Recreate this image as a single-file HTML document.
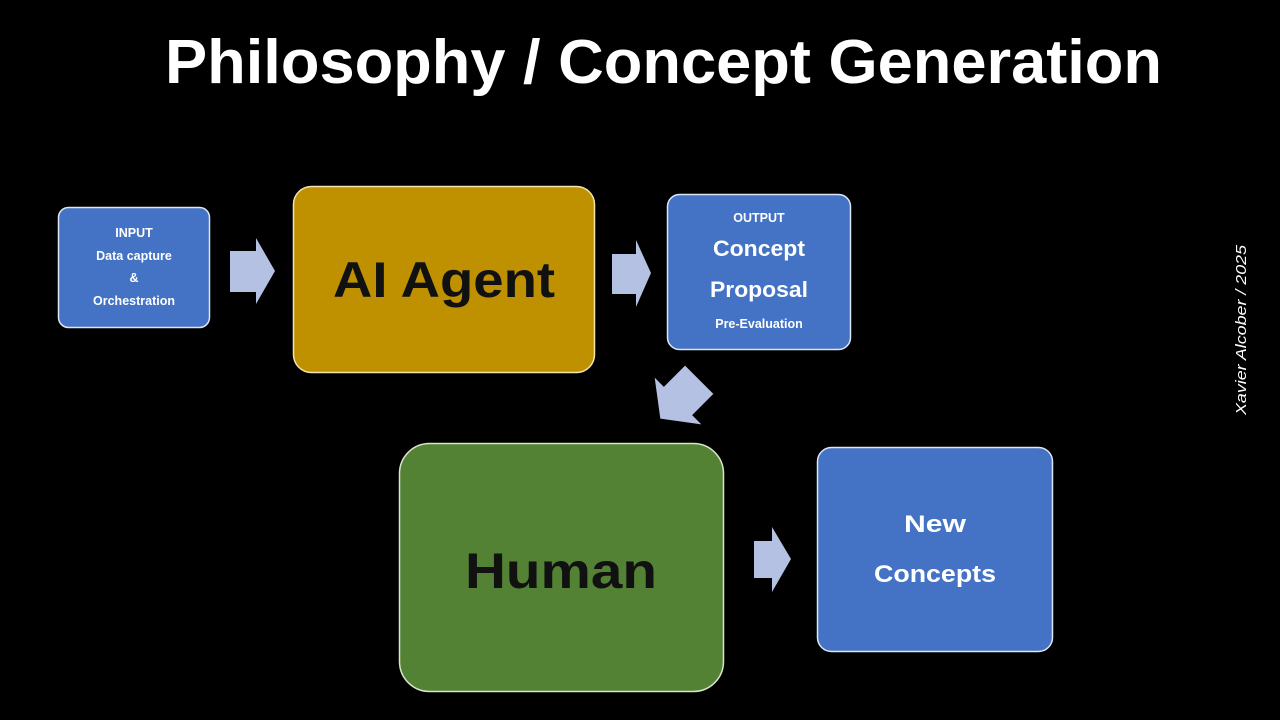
<!DOCTYPE html>
<html><head><meta charset="utf-8"><style>html,body{margin:0;padding:0;background:#000;}svg{display:block}</style></head><body>
<svg width="1280" height="720" viewBox="0 0 1280 720" xmlns="http://www.w3.org/2000/svg" font-family="Liberation Sans, sans-serif" font-weight="bold">
<rect width="1280" height="720" fill="#000"/>
<text x="165" y="83" font-size="62" fill="#fff" textLength="997" lengthAdjust="spacingAndGlyphs">Philosophy / Concept Generation</text>

<rect x="58.5" y="207.5" width="151" height="120" rx="10" fill="#4472c4" stroke="#dde6f5" stroke-width="1.5"/>
<g fill="#fff" font-size="12.5" text-anchor="middle">
<text x="134" y="237">INPUT</text>
<text x="134" y="260">Data capture</text>
<text x="134" y="282">&amp;</text>
<text x="134" y="305">Orchestration</text>
</g>

<polygon points="230,251 256,251 256,238 275,271 256,304 256,292 230,292" fill="#b4c1e2"/>

<rect x="293.5" y="186.5" width="301" height="186" rx="18" fill="#bf9000" stroke="#f4e4b0" stroke-width="1.5"/>
<text x="444" y="297" font-size="50" fill="#111" text-anchor="middle" textLength="222" lengthAdjust="spacingAndGlyphs">AI  Agent</text>

<polygon points="612,254 636,254 636,240 651,273 636,307 636,294 612,294" fill="#b4c1e2"/>

<rect x="667.5" y="194.5" width="183" height="155" rx="12" fill="#4472c4" stroke="#dde6f5" stroke-width="1.5"/>
<g fill="#fff" text-anchor="middle">
<text x="759" y="222" font-size="12.5">OUTPUT</text>
<text x="759" y="256" font-size="22" textLength="92" lengthAdjust="spacingAndGlyphs">Concept</text>
<text x="759" y="297" font-size="22" textLength="98" lengthAdjust="spacingAndGlyphs">Proposal</text>
<text x="759" y="328" font-size="12.5">Pre-Evaluation</text>
</g>

<polygon points="-30,-20 0,-20 0,-33 25,0 0,33 0,20 -30,20" fill="#b4c1e2" transform="translate(678,401) rotate(135)"/>

<rect x="399.5" y="443.5" width="324" height="248" rx="30" fill="#548235" stroke="#d5e6c8" stroke-width="1.5"/>
<text x="561" y="588" font-size="50" fill="#111" text-anchor="middle" textLength="192" lengthAdjust="spacingAndGlyphs">Human</text>

<polygon points="754,541 772,541 772,527 791,559 772,592 772,578 754,578" fill="#b4c1e2"/>

<rect x="817.5" y="447.5" width="235" height="204" rx="14" fill="#4472c4" stroke="#dde6f5" stroke-width="1.5"/>
<g fill="#fff" text-anchor="middle" font-size="24">
<text x="935" y="532" textLength="62" lengthAdjust="spacingAndGlyphs">New</text>
<text x="935" y="582" textLength="122" lengthAdjust="spacingAndGlyphs">Concepts</text>
</g>

<text transform="translate(1246,415) rotate(-90)" font-size="15" font-weight="normal" font-style="italic" fill="#fff" textLength="170" lengthAdjust="spacingAndGlyphs">Xavier Alcober  /  2025</text>
</svg>
</body></html>
